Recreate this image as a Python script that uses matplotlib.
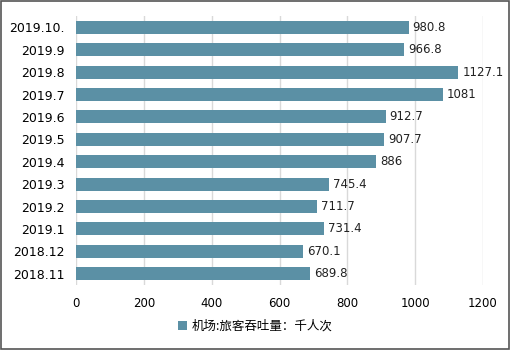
import matplotlib.pyplot as plt
from matplotlib.patches import Rectangle

# data (top to bottom as shown)
months = ['2019.10.', '2019.9', '2019.8', '2019.7', '2019.6', '2019.5',
          '2019.4', '2019.3', '2019.2', '2019.1', '2018.12', '2018.11']
passengers = [980.8, 966.8, 1127.1, 1081, 912.7, 907.7,
              886, 745.4, 711.7, 731.4, 670.1, 689.8]
value_labels = ['980.8', '966.8', '1127.1', '1081', '912.7', '907.7',
                '886', '745.4', '711.7', '731.4', '670.1', '689.8']
x_ticks = [0, 200, 400, 600, 800, 1000, 1200]
legend_label = '机场:旅客吞吐量：千人次'

bar_color = '#5B90A5'
plt.rcParams['font.family'] = ['Noto Sans CJK SC', 'DejaVu Sans']

fig = plt.figure(figsize=(5.11, 3.5), dpi=100)
ax = fig.add_axes([0.149, 0.186, 0.796, 0.768])

ypos = list(range(len(months)))[::-1]
ax.barh(ypos, passengers, height=0.58, color=bar_color, zorder=3,
        label=legend_label)

for y, v, s in zip(ypos, passengers, value_labels):
    ax.text(v + 12, y, s, va='center', ha='left', fontsize=8.5,
            family='DejaVu Sans', color='#222222', zorder=4)

ax.set_xlim(0, 1200)
ax.set_ylim(-0.5, len(months) - 0.5)
ax.set_xticks(x_ticks)
ax.set_xticklabels([str(t) for t in x_ticks], fontsize=8.5,
                   family='DejaVu Sans')
ax.set_yticks(ypos)
ax.set_yticklabels(months, fontsize=9, family='DejaVu Sans')
ax.tick_params(length=0, pad=8)
ax.tick_params(axis='x', pad=9)
ax.grid(axis='x', color='#D9D9D9', linewidth=1, zorder=0)
for sp in ax.spines.values():
    sp.set_visible(False)

ax.legend(loc='center', bbox_to_anchor=(0.5, 0.068),
          bbox_transform=fig.transFigure, frameon=False, fontsize=9,
          handlelength=0.7, handleheight=0.7, handletextpad=0.4)

# outer border
fig.patches.append(Rectangle((0.002, 0.003), 0.995, 0.993,
                             transform=fig.transFigure, fill=False,
                             edgecolor='#555555', linewidth=1.2))

fig.savefig('out.png', dpi=100)
